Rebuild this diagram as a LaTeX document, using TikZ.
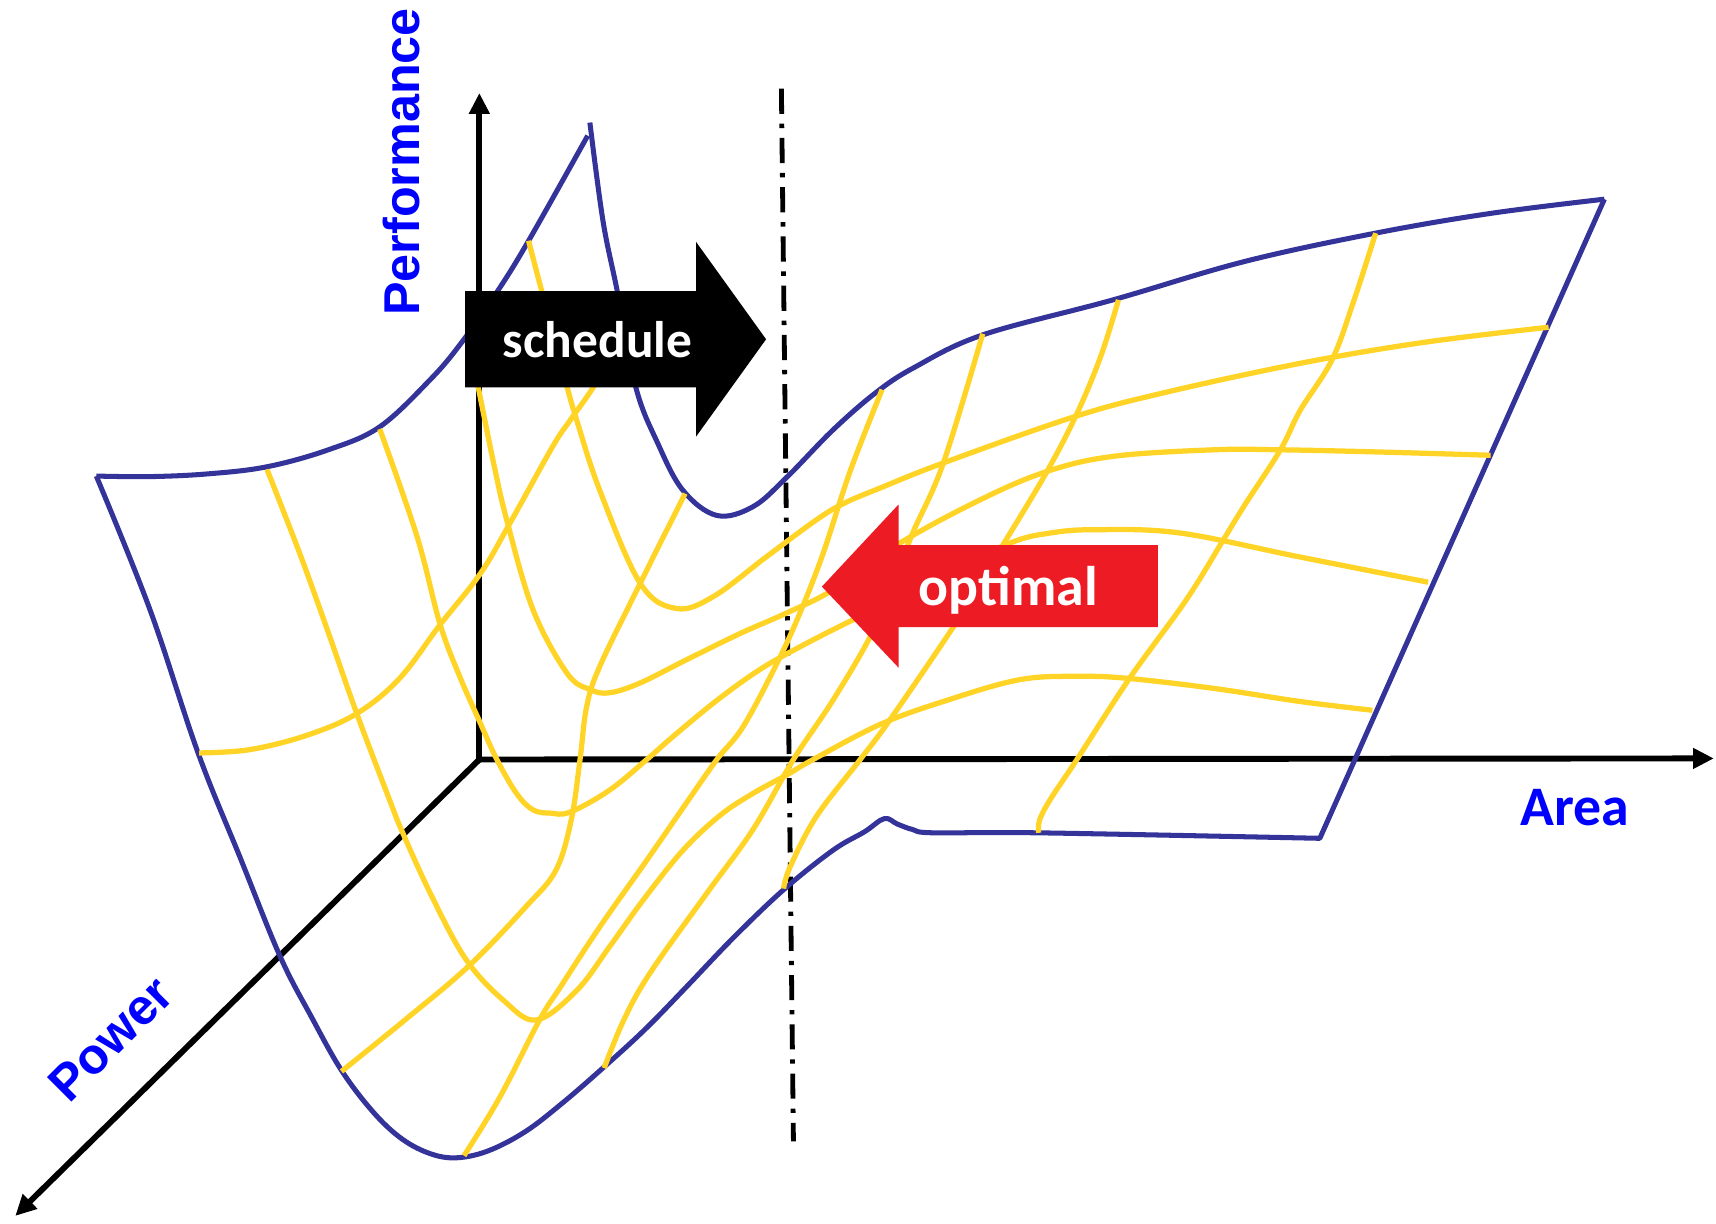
\documentclass[tikz,border=0pt]{standalone}
\usepackage{fontspec}
\usepackage{xcolor}
\usepackage{tikz}
\usetikzlibrary{arrows.meta}
\newfontfamily\axisfont{Liberation Sans}
\newfontfamily\boxfont{Carlito}
\definecolor{SurfaceBlue}{RGB}{51, 51, 153}
\definecolor{GridYellow}{RGB}{255, 212, 38}
\definecolor{LabelBlue}{RGB}{0, 0, 255}
\definecolor{OptimalRed}{RGB}{237, 28, 36}

\begin{document}
\begin{tikzpicture}[x=1pt, y=-1pt,
    surface/.style={SurfaceBlue, line width=4.6pt, line join=round},
    mesh/.style={GridYellow, line width=4.8pt},
    axis/.style={black, line width=5.4pt, -{Triangle[length=19pt, width=18pt]}},
    axislabel/.style={LabelBlue, inner sep=0pt, font=\axisfont\bfseries\fontsize{46pt}{54pt}\selectfont},
    arealabel/.style={LabelBlue, inner sep=0pt, font=\boxfont\bfseries\fontsize{51pt}{60pt}\selectfont},
    boxtext/.style={white, inner sep=0pt, font=\boxfont\bfseries\fontsize{#1}{60pt}\selectfont}]
    \useasboundingbox (0,0) rectangle (1568,1118);
    \coordinate (origin) at (438,694);
    \draw[axis] (origin) -- (438,85);
    \draw[axis] (origin) -- (1566,693);
    \draw[axis] (origin) -- (14,1111);
    \draw[black, line width=4.4pt, dash pattern=on 23pt off 9pt on 4pt off 9pt] (714,81) -- (725,1043);
    \draw[surface] plot[smooth, tension=0.6] coordinates
        {(88,435) (137,435.5) (190,433) (244,426.5) (300,411) (347,390) (393,347) (421,314) (454,267) (483,220) (537,124)};
    \draw[surface] plot[smooth, tension=0.6] coordinates
        {(539,112) (551,202) (564,266) (581,354) (601,405) (624,448) (655,471) (688,463) (719,436) (761,393) (800,359) (835,336) (898,306) (1017,274) (1137,239) (1257,213) (1362,195) (1466,182)};
    \draw[surface] plot[smooth, tension=0.6] coordinates
        {(88,435) (137,557) (181,688) (220,785) (256,874) (285,930) (312,978) (340,1015) (365,1039) (390,1053) (415,1058) (445,1052) (480,1034) (515,1007) (553,974) (590,940) (627,902) (670,857) (716,813) (761,777) (790,760) (808,748) (820,753) (834,758) (853,761) (949,761) (1206,766)}
        -- (1466,182);
    \draw[mesh] plot[smooth, tension=0.6] coordinates
        {(244,429) (274,506) (300,578) (326,652) (356,731) (368,761) (395,820) (426,877) (460,914) (490,932) (527,905) (557,865) (588,822) (624,777) (658,745) (688,725) (719,708) (743,694) (804,662) (865,640) (932,621) (987,618) (1032,620) (1109,629) (1188,641) (1254,649)};
    \draw[mesh] plot[smooth, tension=0.6] coordinates
        {(347,392) (381,490) (402,570) (420,618) (439,661) (454,694) (472,725) (487,740) (503,743) (521,742) (557,722) (591,694) (615,673) (655,640) (694,612) (731,591) (780,566) (850,532) (921,497) (960,487) (1002,484) (1078,487) (1188,509) (1305,532)};
    \draw[mesh] plot[smooth, tension=0.6] coordinates
        {(483,220) (495,266) (507,310) (518,353) (527,384) (548,448) (585,533) (618,556) (652,545) (700,509) (746,475) (771,460) (804,446) (862,423) (981,381) (1063,359) (1188,332) (1300,313) (1415,299)};
    \draw[mesh] plot[smooth, tension=0.6] coordinates
        {(432,330) (437,354) (451,423) (463,475) (487,557) (518,615) (539,630) (557,633) (585,624) (627,603) (676,579) (719,560) (761,539) (821,497) (895,457) (956,431) (1017,417) (1109,411) (1170,411) (1260,413) (1362,416)};
    \draw[mesh] plot[smooth, tension=0.6] coordinates
        {(806,356) (777,430) (752,506) (731,560) (710,606) (679,664) (655,694) (627,734) (591,786) (548,847) (512,902) (493,932) (457,1002) (424,1056)};
    \draw[mesh] plot[smooth, tension=0.6] coordinates
        {(898,305) (862,423) (834,487) (815,535) (795,582) (761,640) (725,694) (688,758) (646,816) (594,889) (570,932) (552,976)};
    \draw[mesh] plot[smooth, tension=0.6] coordinates
        {(1022,274) (1006,325) (984,378) (956,432) (917,497) (895,533) (871,573) (813,658) (786,694) (746,746) (722,792) (716,812)};
    \draw[mesh] plot[smooth, tension=0.6] coordinates
        {(1257,213) (1237,275) (1217,329) (1188,375) (1170,411) (1137,462) (1118,493) (1084,548) (1032,620) (984,694) (960,730) (950,749) (949,761)};
    \draw[mesh] plot[smooth, tension=0.6] coordinates
        {(182,688) (228,685) (280,672) (326,652) (365,620) (402,571) (439,524) (466,478) (505,408) (521,384) (542,354) (560,322)};
    \draw[mesh] plot[smooth, tension=0.6] coordinates
        {(312,979) (370,932) (428,883) (481,828) (508,795) (522,749) (530,694) (536,646) (548,609) (585,533) (626,451)};
    \fill[black] (425,266) -- (636,266) -- (636,221) -- (700,310) -- (636,399) -- (636,354) -- (425,354) -- cycle;
    \fill[OptimalRed] (1058,498) -- (821,498) -- (821,461) -- (751,536) -- (821,610) -- (821,573) -- (1058,573) -- cycle;
    \node[boxtext=47pt] (schedule) at (546,310.5) {schedule};
    \node[boxtext=51pt, anchor=base] (optimal) at (921.5,553) {optimal};
    \node[axislabel, rotate=90] (performance) at (367,148) {Performance};
    \node[axislabel, rotate=45] (power) at (101,949) {Power};
    \node[arealabel] (area) at (1439,737.5) {Area};
\end{tikzpicture}
\end{document}
